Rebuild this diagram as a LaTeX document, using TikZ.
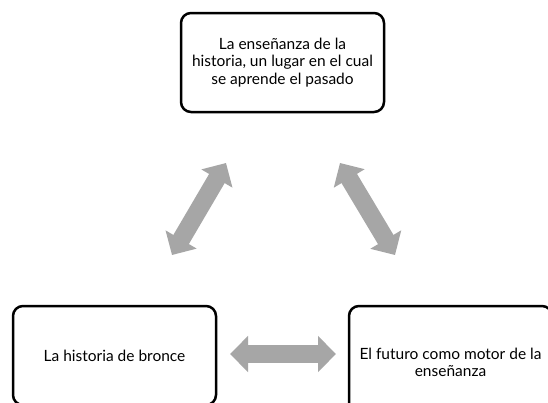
\documentclass[tikz,border=0pt]{standalone}
\usepackage{fontspec}
\setmainfont{Lato}
\usetikzlibrary{arrows.meta}
\definecolor{arrowgray}{HTML}{A6A6A6}
\tikzset{
  box/.style={draw=black, line width=2.5pt, rounded corners=10pt, fill=white,
    minimum width=203pt, align=center, inner sep=2pt,
    font=\fontsize{15.5}{17.5}\selectfont},
  bigarrow/.style={draw=arrowgray, fill=arrowgray, line width=18pt,
    {Triangle[length=18pt,width=35pt]}-{Triangle[length=18pt,width=35pt]}}
}
\begin{document}
\begin{tikzpicture}[x=1pt,y=-1pt]
\clip (0,0) rectangle (548,402);
\fill[white] (0,0) rectangle (548,402);
\node[box, minimum height=99pt] (top) at (282.5,62.5) {La enseñanza de la\\historia, un lugar en el cual\\se aprende el pasado};
\node[box, minimum height=99pt] (left) at (114.5,355.5) {La historia de bronce};
\node[box, minimum height=113pt] (right) at (450.5,362.5) {El futuro como motor de la\\enseñanza};
\coordinate (la) at (172,255);
\coordinate (lb) at (226,163);
\coordinate (ra) at (340,163);
\coordinate (rb) at (395,255);
\coordinate (ha) at (230,354);
\coordinate (hb) at (336,354);
\draw[bigarrow] (la) -- (lb);
\draw[bigarrow] (ra) -- (rb);
\draw[bigarrow] (ha) -- (hb);
\end{tikzpicture}
\end{document}
